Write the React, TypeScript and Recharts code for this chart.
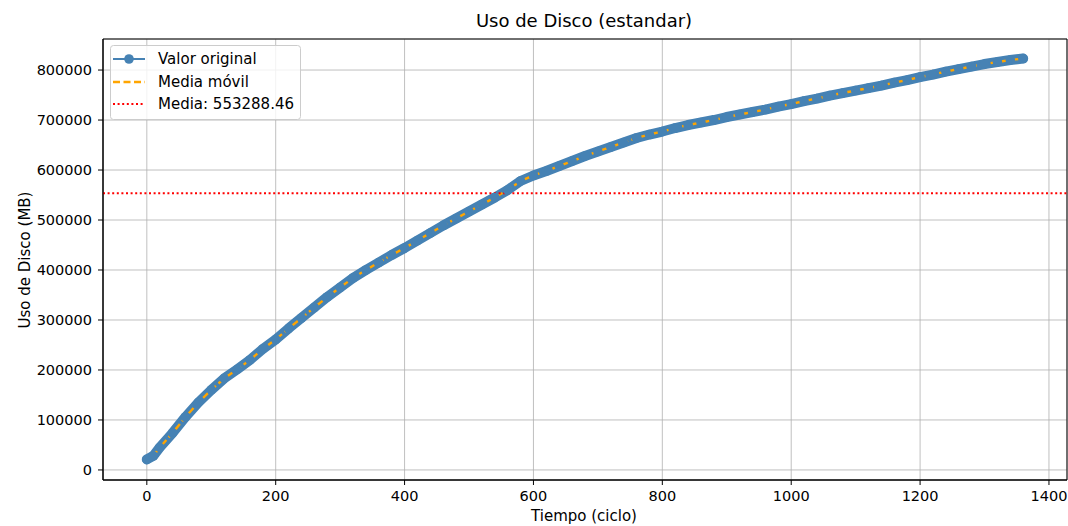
import React from 'react';
import { LineChart, Line, XAxis, YAxis, CartesianGrid, ReferenceLine, ReferenceArea } from 'recharts';

// valores (cada ~20 ciclos)
const ciclos = [
  0, 10, 20, 40, 60, 80, 100, 120, 140, 160, 180, 200, 220, 240, 260, 280, 300, 320, 340, 360,
  380, 400, 420, 440, 460, 480, 500, 520, 540, 560, 580, 600, 620, 640, 660, 680, 700, 720, 740,
  760, 780, 800, 820, 840, 860, 880, 900, 920, 940, 960, 980, 1000, 1020, 1040, 1060, 1080, 1100,
  1120, 1140, 1160, 1180, 1200, 1220, 1240, 1260, 1280, 1300, 1320, 1340, 1360,
];
const usoDisco = [
  21000, 28000, 45000, 74000, 106000, 135000, 160000, 183000, 201000, 220000, 242000, 261000,
  283000, 304000, 325000, 346000, 365000, 384000, 400000, 415000, 430000, 444000, 459000, 474000,
  489000, 503000, 517000, 531000, 545000, 560000, 578000, 589000, 598000, 608000, 618000, 628000,
  637000, 646000, 655000, 664000, 671000, 677000, 684000, 690000, 695000, 700000, 706000, 711000,
  716000, 721000, 727000, 732000, 738000, 743000, 749000, 754000, 759000, 764000, 769000, 775000,
  780000, 786000, 791000, 797000, 802000, 807000, 812000, 816000, 820000, 823000,
];
const media = 553288.46;

const xTicks = [0, 200, 400, 600, 800, 1000, 1200, 1400];
const yTicks = [0, 100000, 200000, 300000, 400000, 500000, 600000, 700000, 800000];

const data = ciclos.map((c, i) => ({ ciclo: c, valor: usoDisco[i], movil: usoDisco[i] }));

const FONT = '"DejaVu Sans", sans-serif';
const BLUE = '#4682b4';
const ORANGE = '#ffa500';

const App = () => {
  return (
    <div style={{ position: 'absolute', left: 0, top: 0, width: 1068, height: 526, background: '#fff', fontFamily: FONT }}>
      <LineChart width={1068} height={526} data={data} margin={{ top: 39, right: 1, bottom: 0, left: 0 }}>
        <CartesianGrid stroke="#b0b0b0" strokeWidth={0.8} />
        <XAxis
          dataKey="ciclo"
          type="number"
          domain={[-68, 1428]}
          allowDataOverflow
          ticks={xTicks}
          height={46}
          stroke="#000"
          tickSize={5}
          tickMargin={6}
          tick={{ fill: '#000', fontSize: 14.5, fontFamily: FONT }}
        />
        <YAxis
          type="number"
          domain={[-20100, 862100]}
          allowDataOverflow
          ticks={yTicks}
          width={103}
          stroke="#000"
          tickSize={5}
          tickMargin={6}
          tick={{ fill: '#000', fontSize: 14.5, fontFamily: FONT }}
        />
        <ReferenceArea x1={-68} x2={1428} y1={-20100} y2={862100} fill="none" stroke="#000" strokeWidth={1} />
        <Line
          dataKey="valor"
          stroke={BLUE}
          strokeWidth={10}
          strokeLinecap="round"
          strokeLinejoin="round"
          dot={{ r: 4.8, fill: BLUE, stroke: 'none' }}
          isAnimationActive={false}
        />
        <Line
          dataKey="movil"
          stroke={ORANGE}
          strokeWidth={2.4}
          strokeDasharray="7 3.5"
          dot={false}
          isAnimationActive={false}
        />
        <ReferenceLine y={media} stroke="#ff0000" strokeWidth={2} strokeDasharray="2 2.6" />
      </LineChart>
      <svg width={1068} height={526} style={{ position: 'absolute', left: 0, top: 0, pointerEvents: 'none' }}>
        <text x={584} y={27} textAnchor="middle" fontSize={18} fill="#000" fontFamily={FONT}>
          Uso de Disco (estandar)
        </text>
        <text x={584} y={521} textAnchor="middle" fontSize={15} fill="#000" fontFamily={FONT}>
          Tiempo (ciclo)
        </text>
        <text transform="translate(30,260) rotate(-90)" textAnchor="middle" fontSize={15} fill="#000" fontFamily={FONT}>
          Uso de Disco (MB)
        </text>
        <g>
          <rect x={110.5} y={45.5} width={190} height={74} rx={3} fill="rgba(255,255,255,0.8)" stroke="#cccccc" />
          <line x1={113} y1={59} x2={145} y2={59} stroke={BLUE} strokeWidth={2} />
          <circle cx={129} cy={59} r={4.8} fill={BLUE} />
          <text x={158} y={64} fontSize={15} fill="#000" fontFamily={FONT}>Valor original</text>
          <line x1={113} y1={82} x2={145} y2={82} stroke={ORANGE} strokeWidth={2.4} strokeDasharray="7 3.5" />
          <text x={158} y={87} fontSize={15} fill="#000" fontFamily={FONT}>Media móvil</text>
          <line x1={113} y1={104} x2={145} y2={104} stroke="#ff0000" strokeWidth={2} strokeDasharray="2 2.6" />
          <text x={158} y={109} fontSize={15} fill="#000" fontFamily={FONT}>Media: 553288.46</text>
        </g>
      </svg>
    </div>
  );
};

export default App;
